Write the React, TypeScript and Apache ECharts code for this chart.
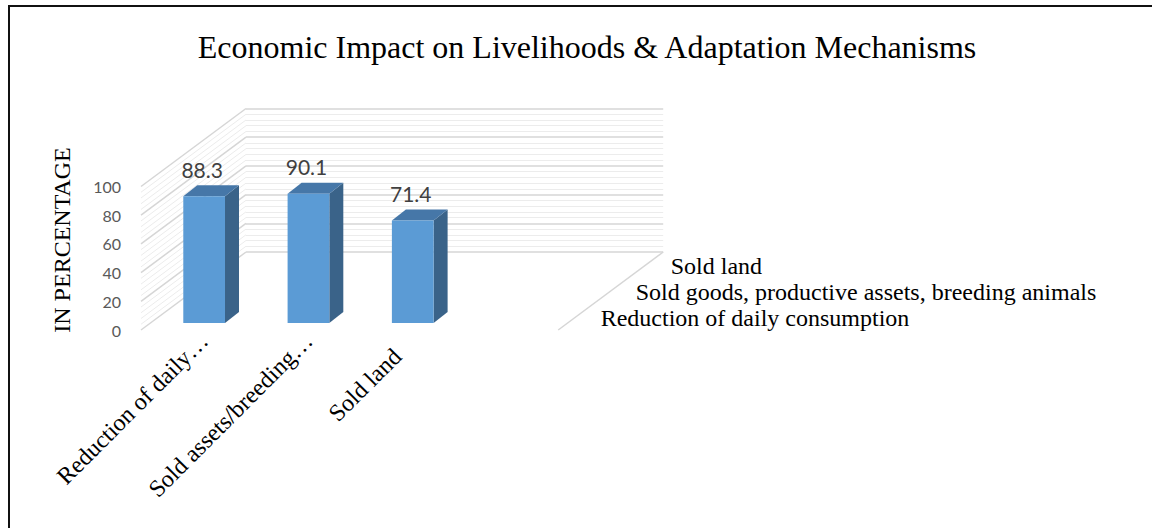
import React, { useEffect, useRef } from "react";
import * as echarts from "echarts";

// Chart data
const categories = ["Reduction of daily…", "Sold assets/breeding…", "Sold land"];
const values = [88.3, 90.1, 71.4];
const depthLabels = [
  "Reduction of daily consumption",
  "Sold goods, productive assets, breeding animals",
  "Sold land",
];
const titleText = "Economic Impact on Livelihoods & Adaptation Mechanisms";
const yAxisTitle = "IN PERCENTAGE";
const yMin = 0;
const yMax = 100;
const yStep = 20;
const yMinorSplits = 5;

// Projection of the pseudo-3D box (pixels)
const DEPTH = [105, -78]; // front plane -> back wall
const BAR_DEPTH = [14, -11]; // thickness of each column
const WALL_BANDS = 4; // floor width measured in category bands

const SERIF = '"Liberation Serif", "Times New Roman", serif';
const SANS = 'Lato, "Open Sans", sans-serif';

const FRONT_LEFT = 141;
const FRONT_BOTTOM = 330;
const PLOT_H = 143.5;
const BAND = 104.3;

// short category labels sit a little further back along their slant
const labelPad = (name: string) => (name.length < 12 ? 22 : 0);

export default function App() {
  const ref = useRef<HTMLDivElement>(null);

  useEffect(() => {
    if (!ref.current) return;
    const chart = echarts.init(ref.current, null, { renderer: "svg" });

    // minor + major tick values for the side wall
    const minorStep = yStep / yMinorSplits;
    const wallTicks: number[] = [];
    for (let v = yMin; v <= yMax + 1e-9; v += minorStep) wallTicks.push(+v.toFixed(4));

    const option: any = {
      animation: false,
      backgroundColor: "#ffffff",
      title: {
        text: titleText,
        left: 582,
        top: 26,
        textAlign: "center",
        textStyle: {
          fontFamily: SERIF,
          fontSize: 32,
          fontWeight: "normal",
          color: "#000000",
        },
      },
      graphic: [
        {
          type: "rect",
          silent: true,
          shape: { x: 9, y: 6, width: 1400, height: 800 },
          style: { fill: "none", stroke: "#111111", lineWidth: 2 },
        },
        {
          type: "text",
          silent: true,
          x: 62,
          y: 240,
          rotation: Math.PI / 2,
          style: {
            text: yAxisTitle,
            font: `24px ${SERIF}`,
            fill: "#000000",
            align: "center",
            verticalAlign: "middle",
            textAlign: "center",
            textVerticalAlign: "middle",
          },
        },
      ],
      grid: [
        // 0: column plane
        {
          left: FRONT_LEFT + 11,
          top: FRONT_BOTTOM - 7 - PLOT_H,
          width: BAND * categories.length,
          height: PLOT_H,
        },
        // 1: front plane (floor front edge, value labels)
        {
          left: FRONT_LEFT,
          top: FRONT_BOTTOM - PLOT_H,
          width: BAND * WALL_BANDS,
          height: PLOT_H,
        },
        // 2: back wall
        {
          left: FRONT_LEFT + DEPTH[0],
          top: FRONT_BOTTOM + DEPTH[1] - PLOT_H,
          width: BAND * WALL_BANDS,
          height: PLOT_H,
        },
      ],
      xAxis: [
        {
          gridIndex: 0,
          type: "category",
          data: categories.map((c) => ({
            value: c,
            textStyle: { padding: [0, labelPad(c), 0, 0] },
          })),
          axisLine: { show: false },
          axisTick: { show: false },
          axisLabel: {
            rotate: 45,
            margin: 14,
            interval: 0,
            fontFamily: SERIF,
            fontSize: 24,
            color: "#000000",
          },
        },
        { gridIndex: 1, type: "value", min: 0, max: 1, show: false },
        { gridIndex: 2, type: "value", min: 0, max: 1, show: false },
      ],
      yAxis: [
        { gridIndex: 0, type: "value", min: yMin, max: yMax, interval: yStep, show: false },
        {
          gridIndex: 1,
          type: "value",
          min: yMin,
          max: yMax,
          interval: yStep,
          axisLine: { show: false },
          axisTick: { show: false },
          splitLine: { show: false },
          axisLabel: {
            margin: 20,
            fontFamily: SANS,
            fontSize: 16,
            color: "#595959",
          },
        },
        {
          gridIndex: 2,
          type: "value",
          min: yMin,
          max: yMax,
          interval: yStep,
          axisLine: { show: false },
          axisTick: { show: false },
          axisLabel: { show: false },
          minorTick: { show: false, splitNumber: yMinorSplits },
          splitLine: { show: true, lineStyle: { color: "#D6D6D6", width: 1.5 } },
          minorSplitLine: { show: true, lineStyle: { color: "#ECECEC", width: 1 } },
        },
      ],
      series: [
        // side wall lines running from the front edge to the back wall
        {
          type: "custom",
          xAxisIndex: 1,
          yAxisIndex: 1,
          silent: true,
          z: 1,
          data: wallTicks.map((v) => [0, v]),
          renderItem: (params: any, api: any) => {
            const v = api.value(1);
            const p = api.coord([0, v]);
            const major = Math.abs(v / yStep - Math.round(v / yStep)) < 1e-6;
            return {
              type: "line",
              shape: { x1: p[0], y1: p[1], x2: p[0] + DEPTH[0], y2: p[1] + DEPTH[1] },
              style: {
                stroke: major ? "#D6D6D6" : "#ECECEC",
                lineWidth: major ? 1.5 : 1,
              },
            };
          },
        },
        // right edge of the floor
        {
          type: "custom",
          xAxisIndex: 1,
          yAxisIndex: 1,
          silent: true,
          z: 1,
          data: [[1, yMin]],
          renderItem: (params: any, api: any) => {
            const p = api.coord([api.value(0), api.value(1)]);
            return {
              type: "line",
              shape: { x1: p[0], y1: p[1], x2: p[0] + DEPTH[0], y2: p[1] + DEPTH[1] },
              style: { stroke: "#D6D6D6", lineWidth: 1.5 },
            };
          },
        },
        // labels along the depth axis
        {
          type: "custom",
          xAxisIndex: 1,
          yAxisIndex: 1,
          silent: true,
          z: 3,
          data: depthLabels.map((_, i) => [1, yMin, i]),
          renderItem: (params: any, api: any) => {
            const i = api.value(2);
            const p = api.coord([api.value(0), api.value(1)]);
            const t = (i + 0.5) / depthLabels.length;
            const x = p[0] + DEPTH[0] * t + 25;
            const y = p[1] + DEPTH[1] * t + 1;
            return {
              type: "text",
              x,
              y,
              style: {
                text: depthLabels[i],
                font: `24px ${SERIF}`,
                fill: "#000000",
                align: "left",
                verticalAlign: "middle",
                textAlign: "left",
                textVerticalAlign: "middle",
              },
            };
          },
        },
        // columns with top and side faces plus value labels
        {
          type: "custom",
          xAxisIndex: 0,
          yAxisIndex: 0,
          z: 5,
          data: values.map((v, i) => [i, v]),
          renderItem: (params: any, api: any) => {
            const idx = api.value(0);
            const v = api.value(1);
            const base = api.coord([idx, yMin]);
            const top = api.coord([idx, v]);
            const w = api.size([1, 0])[0] * 0.4;
            const x0 = base[0] - w / 2;
            const x1 = base[0] + w / 2;
            const [dx, dy] = BAR_DEPTH;
            return {
              type: "group",
              children: [
                {
                  type: "polygon",
                  shape: {
                    points: [
                      [x1, top[1]],
                      [x1 + dx, top[1] + dy],
                      [x1 + dx, base[1] + dy],
                      [x1, base[1]],
                    ],
                  },
                  style: { fill: "#3A6389" },
                },
                {
                  type: "polygon",
                  shape: {
                    points: [
                      [x0, top[1]],
                      [x1, top[1]],
                      [x1 + dx, top[1] + dy],
                      [x0 + dx, top[1] + dy],
                    ],
                  },
                  style: { fill: "#4677A8" },
                },
                {
                  type: "rect",
                  shape: { x: x0, y: top[1], width: w, height: base[1] - top[1] },
                  style: { fill: "#5B9BD5" },
                },
                {
                  type: "text",
                  x: base[0] - 2,
                  y: top[1] - 27,
                  style: {
                    text: String(v),
                    font: `21px ${SANS}`,
                    fill: "#404040",
                    align: "center",
                    verticalAlign: "middle",
                    textAlign: "center",
                    textVerticalAlign: "middle",
                  },
                },
              ],
            };
          },
        },
      ],
    };

    chart.setOption(option);
    return () => chart.dispose();
  }, []);

  return (
    <div
      style={{ position: "fixed", left: 0, top: 0, width: 1152, height: 528, background: "#ffffff" }}
    >
      <div ref={ref} style={{ width: 1152, height: 528 }} />
    </div>
  );
}
